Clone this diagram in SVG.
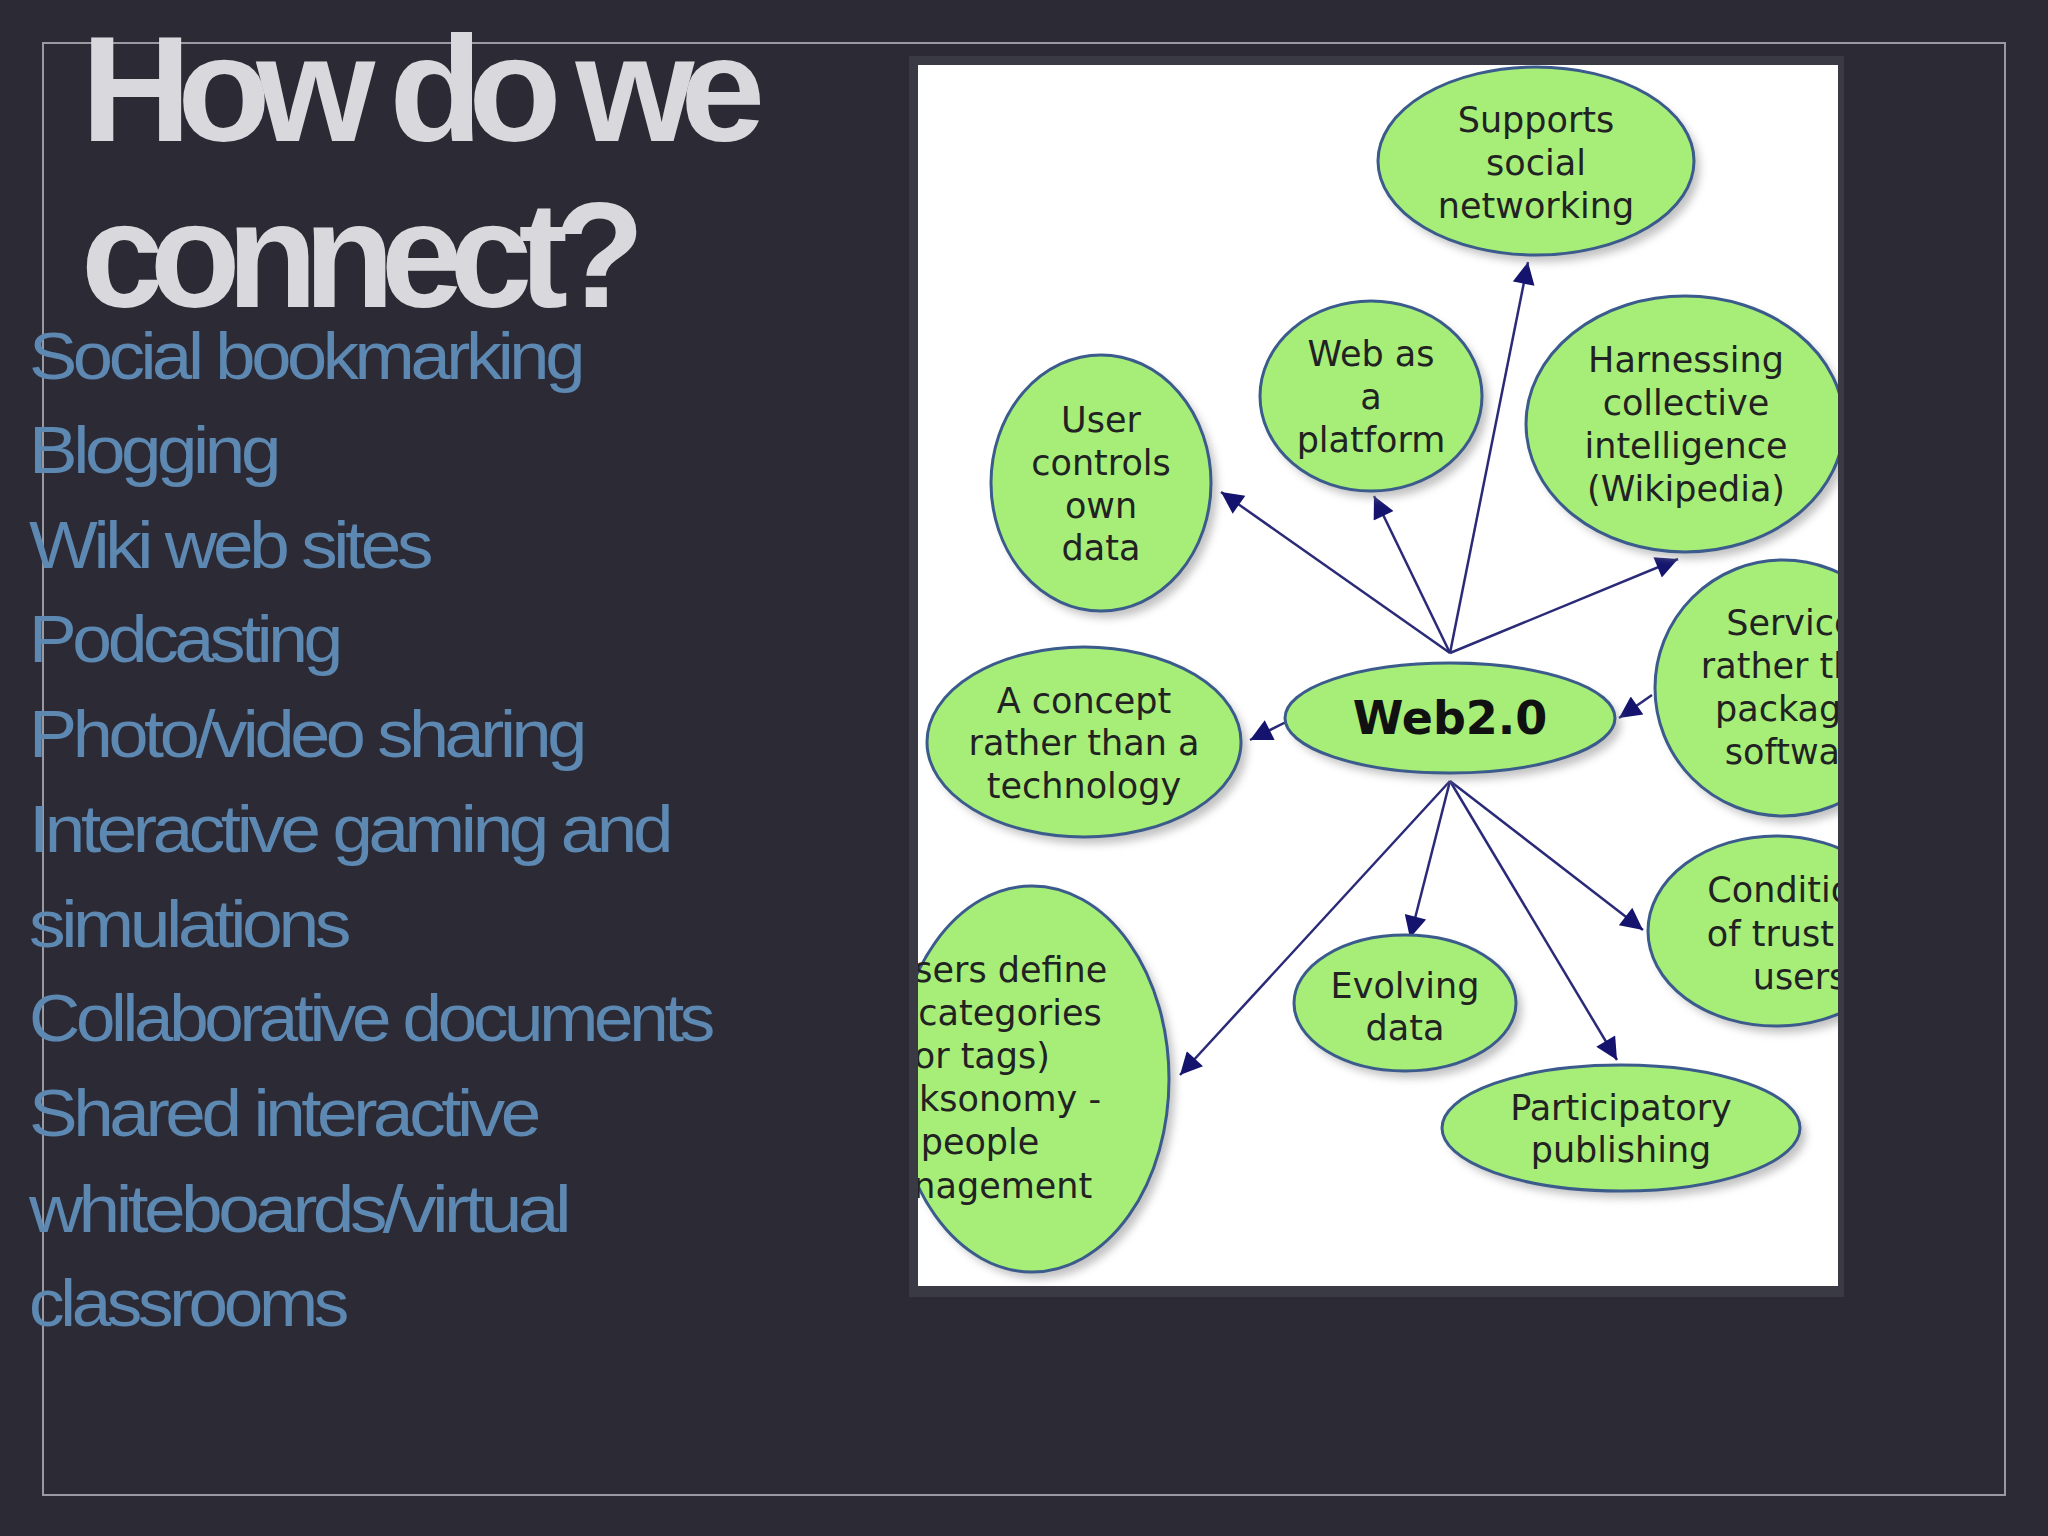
<svg xmlns="http://www.w3.org/2000/svg" width="2048" height="1536" viewBox="0 0 2048 1536">
<style>
.t{font-family:"Liberation Sans",Arial,sans-serif;fill:#d9d9dd;font-size:150px;letter-spacing:-14px;font-weight:bold}
.l{font-family:"Liberation Sans",Arial,sans-serif;fill:#5d88b2;font-size:66px;letter-spacing:-4px}
.e{fill:#a6ee78;stroke:#3b5b8c;stroke-width:3}
.s{fill:#9a9a9a;opacity:0.6;filter:url(#b)}
.n{font-family:"DejaVu Sans","Liberation Sans",sans-serif;font-size:35px;fill:#222;text-anchor:middle}
.c line{stroke:#2a2a78;stroke-width:2.5;marker-end:url(#a)}
</style>
<defs>
<marker id="a" viewBox="0 0 10 10" refX="10" refY="5" markerWidth="26" markerHeight="22" markerUnits="userSpaceOnUse" orient="auto"><path d="M0,0 L10,5 L0,10 z" fill="#14146e"/></marker>
<filter id="b"><feGaussianBlur stdDeviation="4"/></filter>
<clipPath id="p"><rect x="918" y="65" width="920" height="1221"/></clipPath>
</defs>
<rect width="2048" height="1536" fill="#2b2a35"/>
<rect x="43" y="43" width="1962" height="1452" fill="none" stroke="#9a9aa2" stroke-width="2"/>
<text class="t" x="81" y="141" textLength="670" lengthAdjust="spacingAndGlyphs">How do we</text>
<text class="t" x="81" y="307" textLength="550" lengthAdjust="spacingAndGlyphs">connect?</text>
<g class="l">
<text x="29" y="379" textLength="552" lengthAdjust="spacingAndGlyphs">Social bookmarking</text>
<text x="29" y="473" textLength="248" lengthAdjust="spacingAndGlyphs">Blogging</text>
<text x="29" y="568" textLength="400" lengthAdjust="spacingAndGlyphs">Wiki web sites</text>
<text x="29" y="662" textLength="310" lengthAdjust="spacingAndGlyphs">Podcasting</text>
<text x="29" y="757" textLength="554" lengthAdjust="spacingAndGlyphs">Photo/video sharing</text>
<text x="29" y="852" textLength="640" lengthAdjust="spacingAndGlyphs">Interactive gaming and</text>
<text x="29" y="947" textLength="318" lengthAdjust="spacingAndGlyphs">simulations</text>
<text x="29" y="1041" textLength="682" lengthAdjust="spacingAndGlyphs">Collaborative documents</text>
<text x="29" y="1136" textLength="508" lengthAdjust="spacingAndGlyphs">Shared interactive</text>
<text x="29" y="1232" textLength="538" lengthAdjust="spacingAndGlyphs">whiteboards/virtual</text>
<text x="29" y="1326" textLength="316" lengthAdjust="spacingAndGlyphs">classrooms</text>
</g>
<rect x="909" y="56" width="935" height="1241" fill="#3a3a44"/>
<rect x="918" y="65" width="920" height="1221" fill="#fff"/>
<g clip-path="url(#p)">
<g class="c" id="connectors">
<line x1="1450" y1="653" x2="1221" y2="492"/>
<line x1="1450" y1="653" x2="1374" y2="496"/>
<line x1="1450" y1="653" x2="1528" y2="262"/>
<line x1="1450" y1="653" x2="1678" y2="559"/>
<line x1="1652" y1="695" x2="1619" y2="718"/>
<line x1="1286" y1="722" x2="1250" y2="740"/>
<line x1="1450" y1="781" x2="1410" y2="938"/>
<line x1="1450" y1="781" x2="1617" y2="1060"/>
<line x1="1450" y1="781" x2="1643" y2="930"/>
<line x1="1450" y1="781" x2="1180" y2="1075"/>
</g>
<g id="supports"><ellipse class="s" cx="1542" cy="168" rx="158" ry="94"/><ellipse class="e" cx="1536" cy="161" rx="158" ry="94"/>
<text class="n" x="1536" y="132">Supports</text><text class="n" x="1536" y="175">social</text><text class="n" x="1536" y="218">networking</text></g>
<g id="web-platform"><ellipse class="s" cx="1377" cy="403" rx="111" ry="95"/><ellipse class="e" cx="1371" cy="396" rx="111" ry="95"/>
<text class="n" x="1371" y="366">Web as</text><text class="n" x="1371" y="409">a</text><text class="n" x="1371" y="452">platform</text></g>
<g id="user-controls"><ellipse class="s" cx="1107" cy="490" rx="110" ry="128"/><ellipse class="e" cx="1101" cy="483" rx="110" ry="128"/>
<text class="n" x="1101" y="432">User</text><text class="n" x="1101" y="475">controls</text><text class="n" x="1101" y="518">own</text><text class="n" x="1101" y="560">data</text></g>
<g id="harnessing"><ellipse class="s" cx="1691" cy="431" rx="159" ry="128"/><ellipse class="e" cx="1685" cy="424" rx="159" ry="128"/>
<text class="n" x="1686" y="372">Harnessing</text><text class="n" x="1686" y="415">collective</text><text class="n" x="1686" y="458">intelligence</text><text class="n" x="1686" y="501">(Wikipedia)</text></g>
<g id="services"><ellipse class="s" cx="1789" cy="695" rx="128" ry="128"/><ellipse class="e" cx="1783" cy="688" rx="128" ry="128"/>
<text class="n" x="1800" y="635">Services</text><text class="n" x="1800" y="678">rather than</text><text class="n" x="1800" y="721">packaged</text><text class="n" x="1800" y="764">software</text></g>
<g id="concept"><ellipse class="s" cx="1090" cy="749" rx="157" ry="95"/><ellipse class="e" cx="1084" cy="742" rx="157" ry="95"/>
<text class="n" x="1084" y="713">A concept</text><text class="n" x="1084" y="755">rather than a</text><text class="n" x="1084" y="798">technology</text></g>
<g id="web20"><ellipse class="s" cx="1456" cy="725" rx="165" ry="55"/><ellipse class="e" cx="1450" cy="718" rx="165" ry="55"/>
<text class="n" x="1450" y="734" style="font-family:'DejaVu Sans',sans-serif;font-weight:bold;font-size:46px;fill:#111">Web2.0</text></g>
<g id="conditions"><ellipse class="s" cx="1782" cy="938" rx="128" ry="95"/><ellipse class="e" cx="1776" cy="931" rx="128" ry="95"/>
<text class="n" x="1800" y="902">Conditions</text><text class="n" x="1800" y="946">of trust for</text><text class="n" x="1800" y="989">users</text></g>
<g id="users-define"><ellipse class="s" cx="1038" cy="1086" rx="137" ry="193"/><ellipse class="e" cx="1032" cy="1079" rx="137" ry="193"/>
<text class="n" x="998" y="982">Users define</text><text class="n" x="1010" y="1025">categories</text><text class="n" x="975" y="1068">(or tags)</text><text class="n" x="985" y="1111">Folksonomy -</text><text class="n" x="980" y="1154">people</text><text class="n" x="975" y="1198">management</text></g>
<g id="evolving"><ellipse class="s" cx="1411" cy="1010" rx="111" ry="68"/><ellipse class="e" cx="1405" cy="1003" rx="111" ry="68"/>
<text class="n" x="1405" y="998">Evolving</text><text class="n" x="1405" y="1040">data</text></g>
<g id="participatory"><ellipse class="s" cx="1627" cy="1135" rx="179" ry="63"/><ellipse class="e" cx="1621" cy="1128" rx="179" ry="63"/>
<text class="n" x="1621" y="1120">Participatory</text><text class="n" x="1621" y="1162">publishing</text></g>
</g>
</svg>
